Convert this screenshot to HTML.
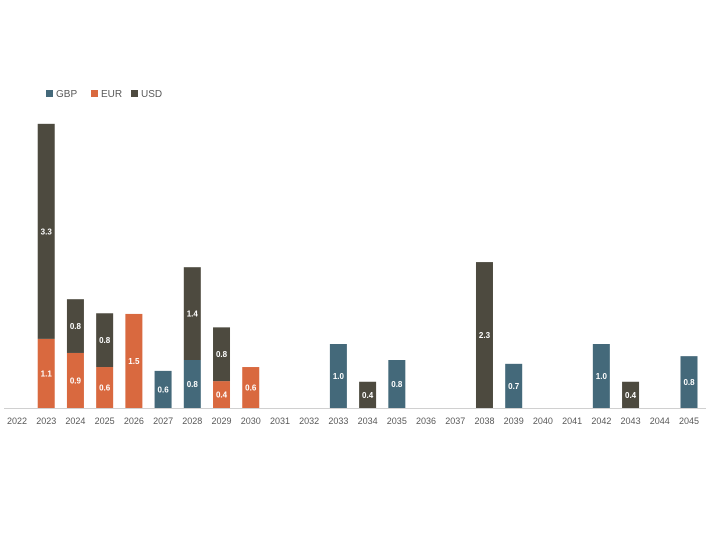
<!DOCTYPE html>
<html><head><meta charset="utf-8"><style>
body{margin:0;background:#fff;width:720px;height:547px;overflow:hidden;font-family:"Liberation Sans",sans-serif}
</style></head><body>
<svg id="chart" width="720" height="547" xmlns="http://www.w3.org/2000/svg">
<g font-size="10" fill="#595959">
<g><rect x="46" y="90" width="7" height="7" fill="#44697a"/><text x="56" y="97">GBP</text></g>
<g><rect x="91" y="90" width="7" height="7" fill="#d9693f"/><text x="101" y="97">EUR</text></g>
<g><rect x="131" y="90" width="7" height="7" fill="#4d4a3f"/><text x="141" y="97">USD</text></g>
</g>
<line x1="4" y1="408.5" x2="706" y2="408.5" stroke="#d0d0d0" stroke-width="1"/>
<g id="bars"></g>
<g id="xlabels" font-size="9" fill="#595959" text-anchor="middle"></g>
</svg>
<script>
const years=[2022,2023,2024,2025,2026,2027,2028,2029,2030,2031,2032,2033,2034,2035,2036,2037,2038,2039,2040,2041,2042,2043,2044,2045];
const gbp=[0,0,0,0,0,0.58,0.75,0,0,0,0,1.0,0,0.75,0,0,0,0.69,0,0,1.0,0,0,0.81];
const eur=[0,1.08,0.86,0.64,1.47,0,0,0.42,0.64,0,0,0,0,0,0,0,0,0,0,0,0,0,0,0];
const usd=[0,3.36,0.84,0.84,0,0,1.45,0.84,0,0,0,0,0.41,0,0,0,2.28,0,0,0,0,0.41,0,0];
const gbpLabels=["","","","","","0.6","0.8","","","","","1.0","","0.8","","","","0.7","","","1.0","","","0.8"];
const eurLabels=["","1.1","0.9","0.6","1.5","","","0.4","0.6","","","","","","","","","","","","","","",""];
const usdLabels=["","3.3","0.8","0.8","","","1.4","0.8","","","","","0.4","","","","2.3","","","","","0.4","",""];
const base=408, ppu=64, x0=17, step=(689-17)/23, bw=17;
const xs=i=>x0+i*step, ys=v=>v*ppu;
const NS="http://www.w3.org/2000/svg";
const bars=document.getElementById('bars'), xl=document.getElementById('xlabels');
const series=[["gbp",gbp,gbpLabels,"#44697a"],["eur",eur,eurLabels,"#d9693f"],["usd",usd,usdLabels,"#4d4a3f"]];
years.forEach((y,i)=>{
  let cum=0;
  series.forEach(([n,vals,labs,col])=>{
    const v=vals[i]; if(!v) return;
    const h=ys(v), top=base-ys(cum)-h;
    const r=document.createElementNS(NS,'rect');
    
    
    r.setAttribute('x',xs(i)-bw/2);r.setAttribute('y',top);r.setAttribute('width',bw);r.setAttribute('height',h);r.setAttribute('fill',col);
    bars.appendChild(r);
    if(labs[i]){
      const t=document.createElementNS(NS,'text');
      
      
      t.setAttribute('x',xs(i));t.setAttribute('y',top+h/2+3);t.setAttribute('text-anchor','middle');
      t.setAttribute('font-size','8');t.setAttribute('font-weight','bold');t.setAttribute('fill','#fff');
      t.textContent=labs[i];bars.appendChild(t);
    }
    cum+=v;
  });
  const t=document.createElementNS(NS,'text');
  
  
  t.setAttribute('x',xs(i));t.setAttribute('y',424);t.textContent=y;xl.appendChild(t);
});
</script>
</body></html>
